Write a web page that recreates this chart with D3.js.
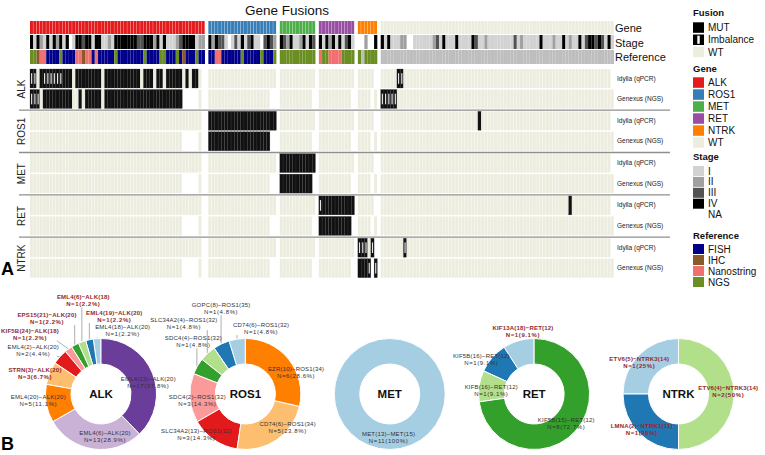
<!DOCTYPE html>
<html><head><meta charset="utf-8">
<script src="https://cdn.jsdelivr.net/npm/d3@7"></script>
<style>body{margin:0;background:#fff}svg{display:block;font-family:"Liberation Sans",Arial,Helvetica,sans-serif}</style>
</head><body><svg id="c" width="765" height="455"></svg>
<script>
// ================= DATA =================
const groups = ["ALK","ROS1","MET","RET","NTRK","WT"];
const groupSizes = [54,21,11,11,6,72];
const genes = ["ALK","ROS1","MET","RET","NTRK"];
const platforms = ["Idylla (qPCR)","Genexus (NGS)"];
const stageLevels = ["I","II","III","IV","NA"];
const refLevels = ["FISH","IHC","Nanostring","NGS"];
const fusionLevels = ["MUT","Imbalance","WT"];

// stage per sample (0=NA,1=I,2=II,3=III,4=IV), one string per group
const stageByGroup = [
  "414214142414014434414411214444444334442414111234444122",
  "424331013141341103432",
  "43241124143",
  "41424141341",
  "002004",
  "414111220011111123141114111143112111111113121111141112114121141344343141"
];
// reference per sample (F=FISH,H=IHC,N=Nanostring,G=NGS,X=none)
const refByGroup = [
  "GGHNNFFFFGFFFFNNHNNFNFFFFFGFFFFFFFFGFFFFGGFFFGFHFFFGFF",
  "FFNNFFFFFFGFFFFFGFFFG",
  "GGGGGGGGGGG",
  "NGGNNNNGGGG",
  "GXGGGG",
  "XXXXXXXXXXXXXXXXXXXXXXXXXXXXXXXXXXXXXXXXXXXXXXXXXXXXXXXXXXXXXXXXXXXXXXXX"
];
// fusion calls, run-length coded per group (M=MUT, I=Imbalance, W=WT, .=NA)
const alkIdylla   = ["2I1W1M6I3M1W8M1W11M1W3M1W2M1W5M1W1M1W2M1W1.","21W","11W","11W","5W1.","5W2I64W1."];
const alkGenexus  = ["3I1W9M2W1M1W5M1W24M5.1W1.","19W2.","10W1.","10W1.","4W1.1W","5I67W"];
const ros1Idylla  = ["53W1.","21M","11W","11W","5W1.","30W1M40W1."];
const ros1Genexus = ["47W5.1W1.","19M2.","10W1.","10W1.","4W1.1W","72W"];
const metIdylla   = ["53W1.","21W","11M","11W","5W1.","71W1."];
const metGenexus  = ["47W5.1W1.","19W2.","10M1.","10W1.","4W1.1W","72W"];
const retIdylla   = ["53W1.","21W","11W","1I10M","5W1.","58W1M12W1."];
const retGenexus  = ["47W5.1W1.","19W2.","10W1.","10M1.","4W1.1W","72W"];
const ntrkIdylla  = ["53W1.","21W","11W","11W","3I1W1I1.","7W1I63W1."];
const ntrkGenexus = ["47W5.1W1.","19W2.","10W1.","10W1.","3M1I1.1I","72W"];

// pie data (listed counter-clockwise from 12 o'clock)
const alkFusions = ["EML4(18)−ALK(20)","EML4(19)−ALK(20)","EML4(6)−ALK(18)","EPS15(21)−ALK(20)","KIF5B(24)−ALK(18)","EML4(2)−ALK(20)","STRN(3)−ALK(20)","EML4(20)−ALK(20)","EML4(6)−ALK(20)","EML4(13)−ALK(20)"];
const alkCounts  = [1,1,1,1,1,2,3,5,13,17];
const alkNovel   = [0,1,1,1,1,0,1,0,0,0];
const ros1Fusions = ["CD74(6)−ROS1(32)","GOPC(8)−ROS1(35)","SLC34A2(4)−ROS1(32)","SDC4(4)−ROS1(32)","SDC4(2)−ROS1(32)","SLC34A2(13)−ROS1(32)","CD74(6)−ROS1(34)","EZR(10)−ROS1(34)"];
const ros1Counts  = [1,1,1,1,3,3,5,6];
const ros1Novel   = [0,0,0,0,0,0,0,0];
const metFusions = ["MET(13)−MET(15)"];
const metCounts  = [11];
const metNovel   = [0];
const retFusions = ["KIF13A(18)−RET(12)","KIF5B(16)−RET(12)","KIFB(16)−RET(12)","KIF5B(15)−RET(12)"];
const retCounts  = [1,1,1,8];
const retNovel   = [1,0,0,0];
const ntrkFusions = ["ETV6(5)−NTRK3(14)","LMNA(2)−NTRK1(11)","ETV6(4)−NTRK3(14)"];
const ntrkCounts  = [1,1,2];
const ntrkNovel   = [1,1,1];

// ================= LAYOUT / STYLE =================
const W = 765, H = 455;
const font = '"Liberation Sans", Arial, Helvetica, sans-serif';
const geneColors = {ALK:"#e41a1c",ROS1:"#377eb8",MET:"#4daf4a",RET:"#984ea3",NTRK:"#ff7f00",WT:"#ededdf"};
const stageColors = {"1":"#d2d2d2","2":"#a0a0a0","3":"#525252","4":"#000000"};
const refColors = {F:"#00008b",H:"#8b5a2b",N:"#f07070",G:"#6b8e23",X:"#bebebe"};
const wtFill = "#ededdf", mutFill = "#111111";

const svg = d3.select("#c");

function rle(s){ const out=[]; const re=/(\d+)(\D)/g; let m; while((m=re.exec(s))){ for(let k=0;k<+m[1];k++) out.push(m[2]); } return out; }

// column scales, one per gene group
const cw = 3.24, gap = 3.4, x0 = 30;
const starts = []; { let acc = x0; groupSizes.forEach(n => { starts.push(acc); acc += n*cw + gap; }); }
const xScales = groupSizes.map((n,g) => d3.scaleLinear().domain([0,n]).range([starts[g], starts[g] + n*cw]));

// title
svg.append("text").attr("x",287).attr("y",15).attr("text-anchor","middle")
  .attr("font-size",13.5).attr("fill","#111").text("Gene Fusions");

// annotation rows
const annot = svg.append("g");
groups.forEach((gname,g) => {
  const xs = xScales[g];
  for (let i=0;i<groupSizes[g];i++){
    annot.append("rect").attr("x",xs(i)).attr("y",21).attr("width",cw-0.3).attr("height",13).attr("fill",geneColors[gname]);
    const st = stageByGroup[g][i];
    if (st !== "0") annot.append("rect").attr("x",xs(i)).attr("y",35).attr("width",cw).attr("height",14).attr("fill",stageColors[st]);
    annot.append("rect").attr("x",xs(i)).attr("y",50).attr("width",cw).attr("height",14).attr("fill",refColors[refByGroup[g][i]]);
  }
});
[["Gene",31.5],["Stage",46.5],["Reference",61]].forEach(([t,y]) =>
  svg.append("text").attr("x",615).attr("y",y).attr("font-size",11).attr("fill","#111").text(t));

// heatmap
const rowsByGene = {ALK:[alkIdylla,alkGenexus],ROS1:[ros1Idylla,ros1Genexus],MET:[metIdylla,metGenexus],RET:[retIdylla,retGenexus],NTRK:[ntrkIdylla,ntrkGenexus]};
const hm = svg.append("g");
function cell(sel,x,y,h,code){
  if (code===".") return;
  if (code==="W"){ sel.append("rect").attr("x",x).attr("y",y).attr("width",cw-0.35).attr("height",h).attr("fill",wtFill); return; }
  sel.append("rect").attr("x",x).attr("y",y).attr("width",cw).attr("height",h).attr("fill",mutFill).attr("stroke","#444").attr("stroke-width",0.25);
  if (code==="I") sel.append("rect").attr("x",x+cw*0.33).attr("y",y+h*0.22).attr("width",cw*0.36).attr("height",h*0.56).attr("fill","#e6e6e6");
}
genes.forEach((gene,gi) => {
  const top = 69 + gi*42.3;
  rowsByGene[gene].forEach((rows,p) => {
    const y = top + p*20.5;
    rows.forEach((code,g) => {
      const arr = rle(code);
      arr.forEach((c,i) => cell(hm, xScales[g](i), y, 19, c));
    });
    svg.append("text").attr("x",617).attr("y",y+11.5).attr("font-size",6.5).attr("fill","#222").text(platforms[p]);
  });
  svg.append("text").attr("transform",`translate(25,${top+20}) rotate(-90)`).attr("text-anchor","middle")
    .attr("font-size",10).attr("fill","#222").text(gene);
  if (gi < genes.length-1)
    svg.append("line").attr("x1",19).attr("x2",670).attr("y1",top+41.2).attr("y2",top+41.2).attr("stroke","#8f8f8f").attr("stroke-width",1.3);
});

// panel letters
svg.append("text").attr("x",1).attr("y",275).attr("font-size",18).attr("font-weight","bold").text("A");
svg.append("text").attr("x",1).attr("y",450).attr("font-size",18).attr("font-weight","bold").text("B");

// legend
const lx = 693, tx = 708;
const leg = svg.append("g").attr("font-size",10).attr("fill","#111");
function title(t,y){ leg.append("text").attr("x",lx).attr("y",y).attr("font-weight","bold").attr("font-size",9.5).text(t); }
title("Fusion",15.5);
fusionLevels.forEach((f,k) => {
  const y = 22.3 + k*12.2;
  if (f==="WT") leg.append("rect").attr("x",lx).attr("y",y).attr("width",11).attr("height",10.5).attr("fill",wtFill);
  else {
    leg.append("rect").attr("x",lx).attr("y",y).attr("width",11).attr("height",10.5).attr("fill","#000");
    if (f==="Imbalance") leg.append("rect").attr("x",lx+4.3).attr("y",y+1.2).attr("width",2.4).attr("height",8.1).attr("fill","#fff");
  }
  leg.append("text").attr("x",tx).attr("y",y+8.8).text(f);
});
title("Gene",71.5);
groups.forEach((gname,k) => {
  const y = 77.3 + k*12;
  leg.append("rect").attr("x",lx).attr("y",y).attr("width",11).attr("height",10.5).attr("fill",geneColors[gname]);
  leg.append("text").attr("x",tx).attr("y",y+8.8).text(gname);
});
title("Stage",160.3);
stageLevels.forEach((s,k) => {
  const y = 166 + k*10.9;
  const code = String(k+1);
  if (stageColors[code]) leg.append("rect").attr("x",lx).attr("y",y).attr("width",11).attr("height",10).attr("fill",stageColors[code]);
  leg.append("text").attr("x",tx).attr("y",y+8.5).text(s);
});
title("Reference",238.5);
refLevels.forEach((r,k) => {
  const y = 244 + k*11;
  leg.append("rect").attr("x",lx).attr("y",y).attr("width",11).attr("height",10).attr("fill",refColors["FHNG"[k]]);
  leg.append("text").attr("x",tx).attr("y",y+8.5).text(r);
});

// ================= PIES =================
const pies = [
  {name:"ALK",  fusions:alkFusions,  counts:alkCounts,  novel:alkNovel},
  {name:"ROS1", fusions:ros1Fusions, counts:ros1Counts, novel:ros1Novel},
  {name:"MET",  fusions:metFusions,  counts:metCounts,  novel:metNovel},
  {name:"RET",  fusions:retFusions,  counts:retCounts,  novel:retNovel},
  {name:"NTRK", fusions:ntrkFusions, counts:ntrkCounts, novel:ntrkNovel}
];
// label placement (offset of first text line from pie centre) and leader flags
const labelLayout = {
  ALK:  [[21.7,-66.7,1],[13.3,-81.3,1],[-17.7,-96.7,1],[-54,-79,1],[-71,-63.3,1],[-67.7,-46.7,1],[-66,-24,0],[-62.7,3.3,0],[4,39.3,0],[47.3,-14.7,0]],
  ROS1: [[15.7,-69,1],[-24.3,-89,1],[-61.5,-74,1],[-52,-55.7,1],[-48,2.7,0],[-49,36.7,0],[42.3,30,0],[50.7,-25,0]],
  MET:  [[-1.2,40,0]],
  RET:  [[-11.2,-65.7,0],[-52.8,-38,0],[-42.8,-7.3,0],[32.2,26,0]],
  NTRK: [[-39.2,-35,0],[-36.8,32,0],[49.8,-5.7,0]]
};
const pieX = d3.scalePoint().domain(pies.map(p=>p.name)).range([101,678.5]);
const cy = 394, R = 55.5, r0 = 30;
const color = d3.scaleOrdinal().range(d3.schemePaired);
const arc = d3.arc().innerRadius(r0).outerRadius(R);
const pieGen = d3.pie().sort(null).startAngle(0).endAngle(-2*Math.PI);
const pct = v => { const s = (Math.round(v*10)/10).toFixed(1); return s.endsWith(".0") ? s.slice(0,-2) : s; };

pies.forEach(p => {
  const cx = pieX(p.name);
  const g = svg.append("g").attr("transform",`translate(${cx},${cy})`);
  const total = d3.sum(p.counts);
  const arcs = pieGen(p.counts);
  color.domain(d3.range(10));
  g.selectAll("path").data(arcs).join("path").attr("d",arc)
    .attr("fill",(d,i)=>d3.schemePaired[i]).attr("stroke","#fff").attr("stroke-width",1);
  g.append("text").attr("y",4.2).attr("text-anchor","middle").attr("font-size",11.5).attr("font-weight","bold").attr("fill","#111").text(p.name);
  const lay = labelLayout[p.name];
  arcs.forEach((a,i) => {
    const [dx,dy,lead] = lay[i];
    const novel = p.novel[i] === 1;
    const lg = g.append("g").attr("font-size",6).attr("fill",novel?"#93282a":"#333").attr("font-weight",novel?"bold":"normal").attr("text-anchor","middle");
    lg.append("text").attr("x",dx).attr("y",dy+2.1).attr("letter-spacing",0.2).text(p.fusions[i]);
    lg.append("text").attr("x",dx).attr("y",dy+9.1).attr("letter-spacing",0.6).text(`N=${p.counts[i]}(${pct(100*p.counts[i]/total)}%)`);
    if (lead){
      const mid = (a.startAngle + a.endAngle)/2;
      const ax = (R+0.5)*Math.sin(mid), ay = -(R+0.5)*Math.cos(mid);
      const bb = lg.node().getBBox();
      const px = Math.max(bb.x+2, Math.min(ax, bb.x+bb.width-2));
      const py = Math.max(bb.y, Math.min(ay, bb.y+bb.height));
      g.insert("line","path").attr("x1",px).attr("y1",py).attr("x2",ax).attr("y2",ay).attr("stroke","#777").attr("stroke-width",0.6);
    }
  });
});
</script></body></html>
